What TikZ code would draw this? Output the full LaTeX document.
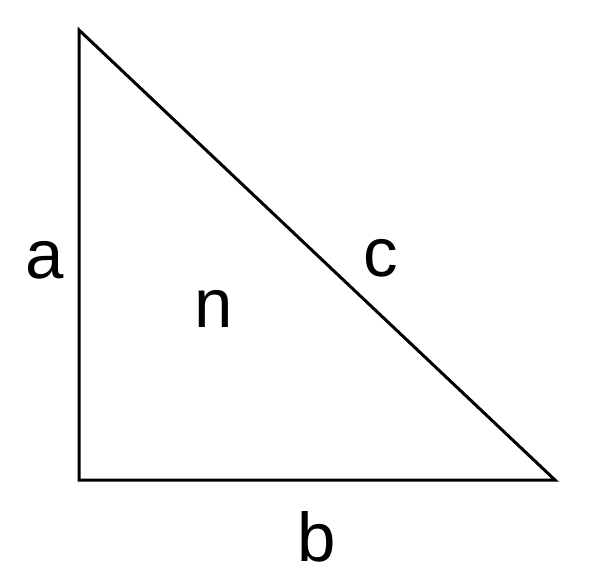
\documentclass[tikz,border=0pt]{standalone}
\usepackage{fontspec}
\setmainfont{Liberation Sans}
\tikzset{lbl/.style={anchor=base,inner sep=0pt,font=\fontsize{69}{69}\selectfont}}
\begin{document}
\begin{tikzpicture}[x=1pt,y=-1pt]
\useasboundingbox (0,0) rectangle (593,580);
\coordinate (T) at (79,30);
\coordinate (L) at (79,480);
\coordinate (R) at (555,480);
\draw[line width=3pt] (T) -- (L) -- (R) -- cycle;
\node[lbl] (a) at (45,278) {a};
\node[lbl] (b) at (317,561) {b};
\node[lbl] (n) at (214,327) {n};
\node[lbl] (c) at (381,276) {c};
\end{tikzpicture}
\end{document}
